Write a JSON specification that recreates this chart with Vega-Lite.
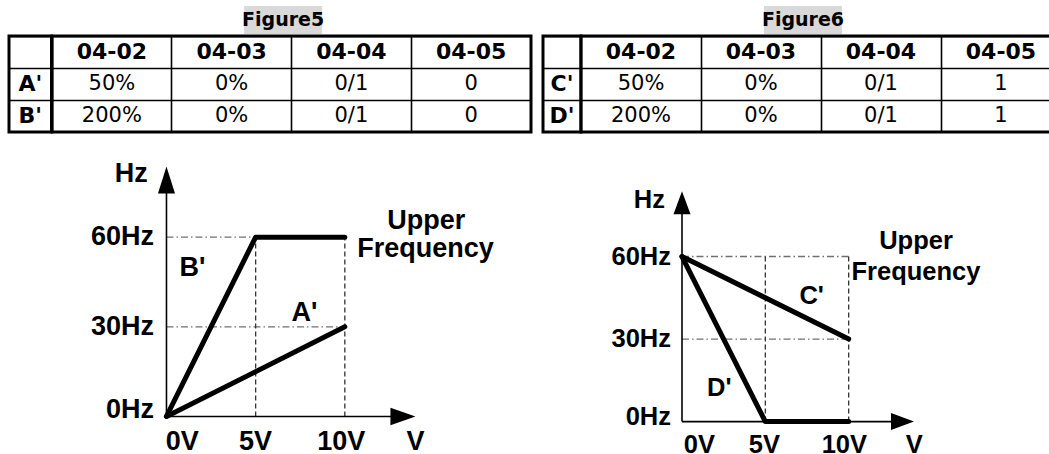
{
  "$schema": "https://vega.github.io/schema/vega-lite/v6.json",
  "padding": {"left": 7, "top": 4, "right": 0, "bottom": 0},
  "background": "white",
  "config": {"view": {"stroke": null}},
  "datasets": {
    "cols": [{"col": "04-02"}, {"col": "04-03"}, {"col": "04-04"}, {"col": "04-05"}],
    "t5rows": [{"row": "A'"}, {"row": "B'"}],
    "t6rows": [{"row": "C'"}, {"row": "D'"}],
    "t5title": [{"title": "Figure5"}],
    "t6title": [{"title": "Figure6"}],
    "t5cells": [
      {"row": "A'", "col": "04-02", "value": "50%"},
      {"row": "A'", "col": "04-03", "value": "0%"},
      {"row": "A'", "col": "04-04", "value": "0/1"},
      {"row": "A'", "col": "04-05", "value": "0"},
      {"row": "B'", "col": "04-02", "value": "200%"},
      {"row": "B'", "col": "04-03", "value": "0%"},
      {"row": "B'", "col": "04-04", "value": "0/1"},
      {"row": "B'", "col": "04-05", "value": "0"}
    ],
    "t6cells": [
      {"row": "C'", "col": "04-02", "value": "50%"},
      {"row": "C'", "col": "04-03", "value": "0%"},
      {"row": "C'", "col": "04-04", "value": "0/1"},
      {"row": "C'", "col": "04-05", "value": "1"},
      {"row": "D'", "col": "04-02", "value": "200%"},
      {"row": "D'", "col": "04-03", "value": "0%"},
      {"row": "D'", "col": "04-04", "value": "0/1"},
      {"row": "D'", "col": "04-05", "value": "1"}
    ],
    "hGuides": [{"V": 0, "V2": 10, "Hz": 60}, {"V": 0, "V2": 10, "Hz": 30}],
    "vGuides": [{"V": 5, "Hz": 0, "Hz2": 60}, {"V": 10, "Hz": 0, "Hz2": 60}],
    "axesL": [{"V": 0, "V2": 0, "Hz": 0, "Hz2": 76}, {"V": 0, "V2": 12.8, "Hz": 0, "Hz2": 0}],
    "axesR": [{"V": 0, "V2": 0, "Hz": 0, "Hz2": 77}, {"V": 0, "V2": 12.8, "Hz": 0, "Hz2": 0}],
    "upL": [{"V": 0, "Hz": 79.1}],
    "rightL": [{"V": 13.26, "Hz": 0}],
    "upR": [{"V": 0, "Hz": 79.5}],
    "rightR": [{"V": 13.23, "Hz": 0}],
    "linesL": [
      {"series": "A'", "V": 0, "Hz": 0},
      {"series": "A'", "V": 10, "Hz": 30},
      {"series": "B'", "V": 0, "Hz": 0},
      {"series": "B'", "V": 5, "Hz": 60},
      {"series": "B'", "V": 10, "Hz": 60}
    ],
    "linesR": [
      {"series": "C'", "V": 0, "Hz": 60},
      {"series": "C'", "V": 10, "Hz": 30},
      {"series": "D'", "V": 0, "Hz": 60},
      {"series": "D'", "V": 5, "Hz": 0},
      {"series": "D'", "V": 10, "Hz": 0}
    ],
    "yLabL": [
      {"t": "60Hz", "V": -0.7, "Hz": 60},
      {"t": "30Hz", "V": -0.7, "Hz": 30},
      {"t": "0Hz", "V": -0.7, "Hz": 2.3}
    ],
    "labL": [
      {"t": "Hz", "V": -1.98, "Hz": 81.0},
      {"t": "0V", "V": 0.88, "Hz": -8.4},
      {"t": "5V", "V": 4.99, "Hz": -8.4},
      {"t": "10V", "V": 9.8, "Hz": -8.4},
      {"t": "V", "V": 13.97, "Hz": -8.4},
      {"t": "Upper", "V": 14.56, "Hz": 65.3},
      {"t": "Frequency", "V": 14.53, "Hz": 55.9},
      {"t": "B'", "V": 1.46, "Hz": 49.6},
      {"t": "A'", "V": 7.74, "Hz": 34.6}
    ],
    "yLabR": [
      {"t": "60Hz", "V": -0.66, "Hz": 60},
      {"t": "30Hz", "V": -0.66, "Hz": 30},
      {"t": "0Hz", "V": -0.66, "Hz": 1.8}
    ],
    "labR": [
      {"t": "Hz", "V": -1.96, "Hz": 80.6},
      {"t": "0V", "V": 1.04, "Hz": -8.5},
      {"t": "5V", "V": 4.94, "Hz": -8.5},
      {"t": "10V", "V": 9.74, "Hz": -8.5},
      {"t": "V", "V": 13.94, "Hz": -8.5},
      {"t": "Upper", "V": 14.04, "Hz": 65.5},
      {"t": "Frequency", "V": 14.04, "Hz": 54.5},
      {"t": "C'", "V": 7.78, "Hz": 45.5},
      {"t": "D'", "V": 2.24, "Hz": 12.1}
    ]
  },
  "bounds": "full",
  "spacing": 7.5,
  "vconcat": [
    {
      "bounds": "full",
      "spacing": 8,
      "hconcat": [
        {
          "bounds": "flush",
          "spacing": 0,
          "hconcat": [
            {
              "width": 42.5,
              "height": 96,
              "view": {"stroke": "black", "strokeWidth": 3, "fill": "white"},
              "data": {"name": "t5rows"},
              "mark": {"type": "text", "font": "DejaVu Sans", "fontWeight": "bold", "fontSize": 22, "color": "black"},
              "encoding": {
                "y": {"field": "row", "type": "nominal",
                  "scale": {"type": "band", "domain": ["head", "A'", "B'"], "paddingInner": 0, "paddingOuter": 0},
                  "axis": {"grid": true, "gridColor": "black", "gridWidth": 1.6, "gridOpacity": 1, "labels": false, "ticks": false, "domain": false, "title": null, "bandPosition": 0, "minExtent": 0, "maxExtent": 0}},
                "text": {"field": "row"}
              }
            },
            {
              "width": 479,
              "height": 96,
              "view": {"stroke": "black", "strokeWidth": 3, "fill": "white"},
              "layer": [
                {
                  "data": {"name": "t5title"},
                  "mark": {"type": "point", "shape": "M-1,-0.36H1V0.36H-1Z", "size": 6084, "filled": true, "color": "#d9d9d9", "opacity": 1},
                  "encoding": {
                    "x": {"datum": "04-03", "type": "nominal", "bandPosition": 0.93},
                    "y": {"datum": "head", "type": "nominal", "bandPosition": -0.5}
                  }
                },
                {
                  "data": {"name": "t5title"},
                  "mark": {"type": "text", "font": "DejaVu Sans", "fontWeight": "bold", "fontSize": 19, "color": "black"},
                  "encoding": {
                    "x": {"datum": "04-03", "type": "nominal", "bandPosition": 0.93},
                    "y": {"datum": "head", "type": "nominal", "bandPosition": -0.5},
                    "text": {"field": "title"}
                  }
                },
                {
                  "data": {"name": "cols"},
                  "mark": {"type": "text", "font": "DejaVu Sans", "fontWeight": "bold", "fontSize": 22, "color": "black"},
                  "encoding": {
                    "x": {"field": "col", "type": "nominal",
                      "scale": {"type": "band", "domain": ["04-02", "04-03", "04-04", "04-05"], "paddingInner": 0, "paddingOuter": 0},
                      "axis": {"grid": true, "gridColor": "black", "gridWidth": 1.6, "gridOpacity": 1, "labels": false, "ticks": false, "domain": false, "title": null, "bandPosition": 0, "minExtent": 0, "maxExtent": 0}},
                    "y": {"datum": "head", "type": "nominal",
                      "scale": {"type": "band", "domain": ["head", "A'", "B'"], "paddingInner": 0, "paddingOuter": 0},
                      "axis": {"grid": true, "gridColor": "black", "gridWidth": 1.6, "gridOpacity": 1, "labels": false, "ticks": false, "domain": false, "title": null, "bandPosition": 0, "minExtent": 0, "maxExtent": 0}},
                    "text": {"field": "col"}
                  }
                },
                {
                  "data": {"name": "t5cells"},
                  "mark": {"type": "text", "font": "DejaVu Sans", "fontSize": 21, "color": "black"},
                  "encoding": {
                    "x": {"field": "col", "type": "nominal"},
                    "y": {"field": "row", "type": "nominal"},
                    "text": {"field": "value"}
                  }
                }
              ]
            }
          ]
        },
        {
          "bounds": "flush",
          "spacing": 0,
          "hconcat": [
            {
              "width": 38,
              "height": 96,
              "view": {"stroke": "black", "strokeWidth": 3, "fill": "white"},
              "data": {"name": "t6rows"},
              "mark": {"type": "text", "font": "DejaVu Sans", "fontWeight": "bold", "fontSize": 22, "color": "black"},
              "encoding": {
                "y": {"field": "row", "type": "nominal",
                  "scale": {"type": "band", "domain": ["head", "C'", "D'"], "paddingInner": 0, "paddingOuter": 0},
                  "axis": {"grid": true, "gridColor": "black", "gridWidth": 1.6, "gridOpacity": 1, "labels": false, "ticks": false, "domain": false, "title": null, "bandPosition": 0, "minExtent": 0, "maxExtent": 0}},
                "text": {"field": "row"}
              }
            },
            {
              "width": 480,
              "height": 96,
              "view": {"stroke": "black", "strokeWidth": 3, "fill": "white"},
              "layer": [
                {
                  "data": {"name": "t6title"},
                  "mark": {"type": "point", "shape": "M-1,-0.36H1V0.36H-1Z", "size": 6084, "filled": true, "color": "#d9d9d9", "opacity": 1},
                  "encoding": {
                    "x": {"datum": "04-03", "type": "nominal", "bandPosition": 0.85},
                    "y": {"datum": "head", "type": "nominal", "bandPosition": -0.5}
                  }
                },
                {
                  "data": {"name": "t6title"},
                  "mark": {"type": "text", "font": "DejaVu Sans", "fontWeight": "bold", "fontSize": 19, "color": "black"},
                  "encoding": {
                    "x": {"datum": "04-03", "type": "nominal", "bandPosition": 0.85},
                    "y": {"datum": "head", "type": "nominal", "bandPosition": -0.5},
                    "text": {"field": "title"}
                  }
                },
                {
                  "data": {"name": "cols"},
                  "mark": {"type": "text", "font": "DejaVu Sans", "fontWeight": "bold", "fontSize": 22, "color": "black"},
                  "encoding": {
                    "x": {"field": "col", "type": "nominal",
                      "scale": {"type": "band", "domain": ["04-02", "04-03", "04-04", "04-05"], "paddingInner": 0, "paddingOuter": 0},
                      "axis": {"grid": true, "gridColor": "black", "gridWidth": 1.6, "gridOpacity": 1, "labels": false, "ticks": false, "domain": false, "title": null, "bandPosition": 0, "minExtent": 0, "maxExtent": 0}},
                    "y": {"datum": "head", "type": "nominal",
                      "scale": {"type": "band", "domain": ["head", "C'", "D'"], "paddingInner": 0, "paddingOuter": 0},
                      "axis": {"grid": true, "gridColor": "black", "gridWidth": 1.6, "gridOpacity": 1, "labels": false, "ticks": false, "domain": false, "title": null, "bandPosition": 0, "minExtent": 0, "maxExtent": 0}},
                    "text": {"field": "col"}
                  }
                },
                {
                  "data": {"name": "t6cells"},
                  "mark": {"type": "text", "font": "DejaVu Sans", "fontSize": 21, "color": "black"},
                  "encoding": {
                    "x": {"field": "col", "type": "nominal"},
                    "y": {"field": "row", "type": "nominal"},
                    "text": {"field": "value"}
                  }
                }
              ]
            }
          ]
        }
      ]
    },
    {
      "bounds": "flush",
      "spacing": 80,
      "hconcat": [
        {
          "width": 501.5,
          "height": 312,
          "encoding": {
            "x": {"field": "V", "type": "quantitative", "scale": {"domain": [-8.83, 19.29], "nice": false, "zero": false}, "axis": null},
            "y": {"field": "Hz", "type": "quantitative", "scale": {"domain": [-12.4, 92.0], "nice": false, "zero": false}, "axis": null}
          },
          "layer": [
            {"data": {"name": "hGuides"}, "mark": {"type": "rule", "color": "#707070", "strokeWidth": 1.3, "strokeDash": [7, 3, 1.5, 3]},
             "encoding": {"x2": {"field": "V2"}}},
            {"data": {"name": "vGuides"}, "mark": {"type": "rule", "color": "#333333", "strokeWidth": 1.3, "strokeDash": [5, 3]},
             "encoding": {"y2": {"field": "Hz2"}}},
            {"data": {"name": "axesL"}, "mark": {"type": "rule", "color": "black", "strokeWidth": 1.6},
             "encoding": {"x2": {"field": "V2"}, "y2": {"field": "Hz2"}}},
            {"data": {"name": "upL"}, "mark": {"type": "point", "shape": "M0,-1L0.63,1L-0.63,1Z", "size": 729, "filled": true, "color": "black", "opacity": 1}, "encoding": {}},
            {"data": {"name": "rightL"}, "mark": {"type": "point", "shape": "M1,0L-1,-0.7L-1,0.7Z", "size": 625, "filled": true, "color": "black", "opacity": 1}, "encoding": {}},
            {"data": {"name": "linesL"}, "mark": {"type": "line", "color": "black", "strokeWidth": 5, "strokeCap": "round", "strokeJoin": "round"},
             "encoding": {"detail": {"field": "series", "type": "nominal"}}},
            {"data": {"name": "yLabL"}, "mark": {"type": "text", "align": "right", "baseline": "middle", "font": "Liberation Sans", "fontWeight": "bold", "fontSize": 27, "color": "black"},
             "encoding": {"text": {"field": "t"}}},
            {"data": {"name": "labL"}, "mark": {"type": "text", "align": "center", "baseline": "middle", "font": "Liberation Sans", "fontWeight": "bold", "fontSize": 27, "color": "black"},
             "encoding": {"text": {"field": "t"}}}
          ]
        },
        {
          "width": 410,
          "height": 312,
          "encoding": {
            "x": {"field": "V", "type": "quantitative", "scale": {"domain": [-5.46, 19.14], "nice": false, "zero": false}, "axis": null},
            "y": {"field": "Hz", "type": "quantitative", "scale": {"domain": [-11.6, 101.8], "nice": false, "zero": false}, "axis": null}
          },
          "layer": [
            {"data": {"name": "hGuides"}, "mark": {"type": "rule", "color": "#707070", "strokeWidth": 1.3, "strokeDash": [7, 3, 1.5, 3]},
             "encoding": {"x2": {"field": "V2"}}},
            {"data": {"name": "vGuides"}, "mark": {"type": "rule", "color": "#333333", "strokeWidth": 1.3, "strokeDash": [5, 3]},
             "encoding": {"y2": {"field": "Hz2"}}},
            {"data": {"name": "axesR"}, "mark": {"type": "rule", "color": "black", "strokeWidth": 1.6},
             "encoding": {"x2": {"field": "V2"}, "y2": {"field": "Hz2"}}},
            {"data": {"name": "upR"}, "mark": {"type": "point", "shape": "M0,-1L0.74,1L-0.74,1Z", "size": 529, "filled": true, "color": "black", "opacity": 1}, "encoding": {}},
            {"data": {"name": "rightR"}, "mark": {"type": "point", "shape": "M1,0L-1,-0.74L-1,0.74Z", "size": 529, "filled": true, "color": "black", "opacity": 1}, "encoding": {}},
            {"data": {"name": "linesR"}, "mark": {"type": "line", "color": "black", "strokeWidth": 5, "strokeCap": "round", "strokeJoin": "round"},
             "encoding": {"detail": {"field": "series", "type": "nominal"}}},
            {"data": {"name": "yLabR"}, "mark": {"type": "text", "align": "right", "baseline": "middle", "font": "Liberation Sans", "fontWeight": "bold", "fontSize": 25.5, "color": "black"},
             "encoding": {"text": {"field": "t"}}},
            {"data": {"name": "labR"}, "mark": {"type": "text", "align": "center", "baseline": "middle", "font": "Liberation Sans", "fontWeight": "bold", "fontSize": 25.5, "color": "black"},
             "encoding": {"text": {"field": "t"}}}
          ]
        }
      ]
    }
  ]
}
